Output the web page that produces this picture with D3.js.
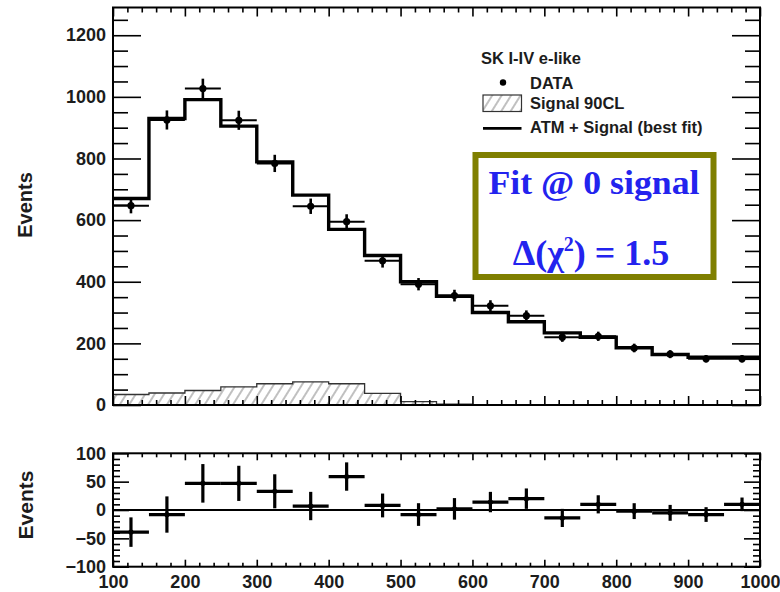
<!DOCTYPE html>
<html>
<head>
<meta charset="utf-8">
<script src="https://cdn.jsdelivr.net/npm/d3@7"></script>
<style>
  html, body { margin: 0; padding: 0; background: #fff; }
  svg { display: block; }
  .tick text { font-family: "Liberation Sans", Arial, sans-serif; font-weight: bold; font-size: 18px; fill: #1c1c1c; }
</style>
</head>
<body>
<svg id="chart" width="780" height="592"></svg>
<script>
// Reconstructed energy spectrum, bins of 50 from 100 to 1000
const binLow = [100, 150, 200, 250, 300, 350, 400, 450, 500, 550, 600, 650, 700, 750, 800, 850, 900, 950];
const binWidth = 50;

// ATM + Signal (best fit) histogram
const bestFit = [670, 930, 991, 905, 789, 681, 570, 485, 400, 353, 300, 270, 234, 220, 186, 164, 155, 155];
// Observed events and their errors
const dataEvents = [647, 925, 1027, 924, 784, 645, 595, 468, 392, 355, 322, 290, 220, 223, 185, 165, 150, 150];
const dataErr = [25, 31, 32, 31, 28, 25, 24, 22, 20, 19, 18, 17, 15, 15, 14, 13, 12, 12];
// Signal at 90% CL
const signal90 = [34, 39, 47, 59, 69, 75, 69, 38, 11, 3, 0, 0, 0, 0, 0, 0, 0, 0];
// Residuals shown in the lower panel
const residual = [-39, -8, 47, 47, 33, 7, 59, 8, -8, 2, 14, 20, -14, 10, -2, -5, -8, 10];
const residualErr = [26, 32, 34, 31, 30, 25, 25, 21, 20, 19, 18, 18, 16, 16, 14, 14, 13, 12];

// Tick labels
const xTickLabels = [100, 200, 300, 400, 500, 600, 700, 800, 900, 1000];
const yTopTickLabels = [0, 200, 400, 600, 800, 1000, 1200];
const yBotTickLabels = [-100, -50, 0, 50, 100];

const svg = d3.select("#chart");
const left = 113, right = 760;
const top1 = 7.5, bot1 = 405;
const top2 = 453.3, bot2 = 566.7;

const x = d3.scaleLinear().domain([100, 1000]).range([left, right]);
const yTop = d3.scaleLinear().domain([0, 1290]).range([bot1, top1]);
const yBot = d3.scaleLinear().domain([-100, 100]).range([bot2, top2]);

// hatch pattern for the signal histogram
const defs = svg.append("defs");
const pat = defs.append("pattern")
  .attr("id", "hatch").attr("patternUnits", "userSpaceOnUse")
  .attr("width", 8).attr("height", 8)
  .attr("patternTransform", "rotate(32)");
pat.append("line").attr("x1", 4).attr("y1", 0).attr("x2", 4).attr("y2", 8)
  .attr("stroke", "#8c8c8c").attr("stroke-width", 1.1);

const bins = binLow.map((lo, i) => ({ lo, hi: lo + binWidth, mid: lo + binWidth / 2, i }));

// ---------- upper panel ----------
const upper = svg.append("g");

// signal 90CL (only bins with content)
let lastSig = 0;
signal90.forEach((v, i) => { if (v > 0) lastSig = i; });
const sigPts = bins.slice(0, lastSig + 1).map(b => ({ x: b.lo, v: signal90[b.i] }));
sigPts.push({ x: bins[lastSig].hi, v: signal90[lastSig] });
upper.append("path").datum(sigPts)
  .attr("fill", "url(#hatch)")
  .attr("d", d3.area().curve(d3.curveStepAfter).x(d => x(d.x)).y0(yTop(0)).y1(d => yTop(d.v)));
upper.append("path").datum(sigPts)
  .attr("fill", "none").attr("stroke", "#333").attr("stroke-width", 1.3)
  .attr("d", d3.line().curve(d3.curveStepAfter).x(d => x(d.x)).y(d => yTop(d.v)));
upper.append("line")
  .attr("x1", x(bins[lastSig].hi)).attr("x2", x(bins[lastSig].hi))
  .attr("y1", yTop(signal90[lastSig])).attr("y2", yTop(0))
  .attr("stroke", "#333").attr("stroke-width", 1.3);

// best-fit histogram
const fitPts = bins.map(b => ({ x: b.lo, v: bestFit[b.i] }));
fitPts.push({ x: 1000, v: bestFit[bestFit.length - 1] });
upper.append("path").datum(fitPts)
  .attr("fill", "none").attr("stroke", "#000").attr("stroke-width", 3.4)
  .attr("d", d3.line().curve(d3.curveStepAfter).x(d => x(d.x)).y(d => yTop(d.v)));

// data points
const dg = upper.append("g").selectAll("g").data(bins).join("g");
dg.append("line")
  .attr("x1", d => x(d.lo)).attr("x2", d => x(d.hi))
  .attr("y1", d => yTop(dataEvents[d.i])).attr("y2", d => yTop(dataEvents[d.i]))
  .attr("stroke", "#000").attr("stroke-width", 2);
dg.append("line")
  .attr("x1", d => x(d.mid)).attr("x2", d => x(d.mid))
  .attr("y1", d => yTop(dataEvents[d.i] - dataErr[d.i])).attr("y2", d => yTop(dataEvents[d.i] + dataErr[d.i]))
  .attr("stroke", "#000").attr("stroke-width", 2.6);
dg.append("circle")
  .attr("cx", d => x(d.mid)).attr("cy", d => yTop(dataEvents[d.i])).attr("r", 3.6)
  .attr("fill", "#000");

// axes of the upper panel (ticks point inward)
function styleAxis(g) { g.select(".domain").remove(); g.selectAll(".tick line").attr("stroke", "#000").attr("stroke-width", 1.6); }

upper.append("g").attr("transform", `translate(${left},0)`)
  .call(d3.axisLeft(yTop).tickValues(d3.range(0, 1290, 50).filter(v => v % 200 !== 0)).tickSize(-15).tickFormat(""))
  .call(styleAxis);
upper.append("g").attr("transform", `translate(${left},0)`)
  .call(d3.axisLeft(yTop).tickValues(yTopTickLabels).tickSize(-28).tickPadding(7).tickFormat(d3.format("d")))
  .call(styleAxis);
upper.append("g").attr("transform", `translate(${right},0)`)
  .call(d3.axisRight(yTop).tickValues(d3.range(0, 1290, 50).filter(v => v % 200 !== 0)).tickSize(-15).tickFormat(""))
  .call(styleAxis);
upper.append("g").attr("transform", `translate(${right},0)`)
  .call(d3.axisRight(yTop).tickValues(yTopTickLabels).tickSize(-28).tickFormat(""))
  .call(styleAxis);

const xMinor = d3.range(120, 1000, 20).filter(v => v % 100 !== 0);
upper.append("g").attr("transform", `translate(0,${bot1})`)
  .call(d3.axisBottom(x).tickValues(xMinor).tickSize(-5).tickFormat("")).call(styleAxis);
upper.append("g").attr("transform", `translate(0,${bot1})`)
  .call(d3.axisBottom(x).tickValues(xTickLabels).tickSize(-9).tickFormat("")).call(styleAxis);
upper.append("g").attr("transform", `translate(0,${top1})`)
  .call(d3.axisTop(x).tickValues(xMinor).tickSize(-5).tickFormat("")).call(styleAxis);
upper.append("g").attr("transform", `translate(0,${top1})`)
  .call(d3.axisTop(x).tickValues(xTickLabels).tickSize(-9).tickFormat("")).call(styleAxis);

upper.append("rect")
  .attr("x", left).attr("y", top1).attr("width", right - left).attr("height", bot1 - top1)
  .attr("fill", "none").attr("stroke", "#000").attr("stroke-width", 2);

// legend
const legend = upper.append("g")
  .style("font-family", "'Liberation Sans', Arial, sans-serif").style("font-weight", "bold")
  .style("font-size", "16.5px").style("fill", "#1c1c1c");
legend.append("text").attr("x", 481).attr("y", 63.5).text("SK I-IV e-like");
legend.append("circle").attr("cx", 503).attr("cy", 82.5).attr("r", 3.2).attr("fill", "#000");
legend.append("text").attr("x", 530).attr("y", 88.5).text("DATA");
legend.append("rect").attr("x", 483).attr("y", 95).attr("width", 38.5).attr("height", 16.5)
  .attr("fill", "url(#hatch)").attr("stroke", "#333").attr("stroke-width", 1.2);
legend.append("text").attr("x", 530).attr("y", 109).text("Signal 90CL");
legend.append("line").attr("x1", 483).attr("x2", 521.5).attr("y1", 128.3).attr("y2", 128.3)
  .attr("stroke", "#000").attr("stroke-width", 2.7);
legend.append("text").attr("x", 530).attr("y", 132.5).text("ATM + Signal (best fit)");

// fit annotation box
const box = upper.append("g");
box.append("rect").attr("x", 475.5).attr("y", 155).attr("width", 238).attr("height", 122)
  .attr("fill", "#fff").attr("stroke", "#7f7f00").attr("stroke-width", 6);
box.append("text").attr("x", 594).attr("y", 193.5)
  .attr("text-anchor", "middle")
  .attr("textLength", 211).attr("lengthAdjust", "spacingAndGlyphs")
  .style("font-family", "'Liberation Serif', 'DejaVu Serif', serif").style("font-weight", "bold")
  .style("font-size", "33px").style("fill", "#2323ee")
  .text("Fit @ 0 signal");
const t2 = box.append("text").attr("x", 591).attr("y", 265)
  .attr("text-anchor", "middle")
  .style("font-family", "'Liberation Serif', 'DejaVu Serif', serif").style("font-weight", "bold")
  .style("font-size", "36px").style("fill", "#2323ee");
t2.append("tspan").text("Δ(χ");
t2.append("tspan").attr("dy", -14).style("font-size", "20px").text("2");
t2.append("tspan").attr("dy", 14).text(") = 1.5");

// ---------- lower panel ----------
const lower = svg.append("g");

lower.append("line").attr("x1", left).attr("x2", right).attr("y1", yBot(0)).attr("y2", yBot(0))
  .attr("stroke", "#000").attr("stroke-width", 1.8);

const rg = lower.append("g").selectAll("g").data(bins).join("g");
rg.append("line")
  .attr("x1", d => x(d.lo)).attr("x2", d => x(d.hi))
  .attr("y1", d => yBot(residual[d.i])).attr("y2", d => yBot(residual[d.i]))
  .attr("stroke", "#000").attr("stroke-width", 3.2);
rg.append("line")
  .attr("x1", d => x(d.mid)).attr("x2", d => x(d.mid))
  .attr("y1", d => yBot(residual[d.i] - residualErr[d.i])).attr("y2", d => yBot(residual[d.i] + residualErr[d.i]))
  .attr("stroke", "#000").attr("stroke-width", 3.2);
rg.append("circle")
  .attr("cx", d => x(d.mid)).attr("cy", d => yBot(residual[d.i])).attr("r", 2.6).attr("fill", "#000");

const yBotMinor = d3.range(-90, 100, 10).filter(v => v % 50 !== 0);
lower.append("g").attr("transform", `translate(${left},0)`)
  .call(d3.axisLeft(yBot).tickValues(yBotMinor).tickSize(-7).tickFormat("")).call(styleAxis);
lower.append("g").attr("transform", `translate(${left},0)`)
  .call(d3.axisLeft(yBot).tickValues(yBotTickLabels).tickSize(-16).tickPadding(7).tickFormat(d3.format("d")))
  .call(styleAxis);
lower.append("g").attr("transform", `translate(${right},0)`)
  .call(d3.axisRight(yBot).tickValues(yBotMinor).tickSize(-7).tickFormat("")).call(styleAxis);
lower.append("g").attr("transform", `translate(${right},0)`)
  .call(d3.axisRight(yBot).tickValues(yBotTickLabels).tickSize(-16).tickFormat("")).call(styleAxis);

lower.append("g").attr("transform", `translate(0,${bot2})`)
  .call(d3.axisBottom(x).tickValues(xMinor).tickSize(-4).tickFormat("")).call(styleAxis);
lower.append("g").attr("transform", `translate(0,${bot2})`)
  .call(d3.axisBottom(x).tickValues(xTickLabels).tickSize(-7).tickPadding(9).tickFormat(d3.format("d")))
  .call(styleAxis);
lower.append("g").attr("transform", `translate(0,${top2})`)
  .call(d3.axisTop(x).tickValues(xMinor).tickSize(-4).tickFormat("")).call(styleAxis);
lower.append("g").attr("transform", `translate(0,${top2})`)
  .call(d3.axisTop(x).tickValues(xTickLabels).tickSize(-7).tickFormat("")).call(styleAxis);

lower.append("rect")
  .attr("x", left).attr("y", top2).attr("width", right - left).attr("height", bot2 - top2)
  .attr("fill", "none").attr("stroke", "#000").attr("stroke-width", 2);

// axis titles
svg.append("text").attr("transform", "translate(32,205) rotate(-90)")
  .attr("text-anchor", "middle")
  .style("font-family", "'Liberation Sans', Arial, sans-serif").style("font-weight", "bold")
  .style("font-size", "20px").style("fill", "#1c1c1c").text("Events");
svg.append("text").attr("transform", "translate(33,505) rotate(-90)")
  .attr("text-anchor", "middle")
  .style("font-family", "'Liberation Sans', Arial, sans-serif").style("font-weight", "bold")
  .style("font-size", "21px").style("fill", "#1c1c1c").text("Events");
</script>
</body>
</html>
